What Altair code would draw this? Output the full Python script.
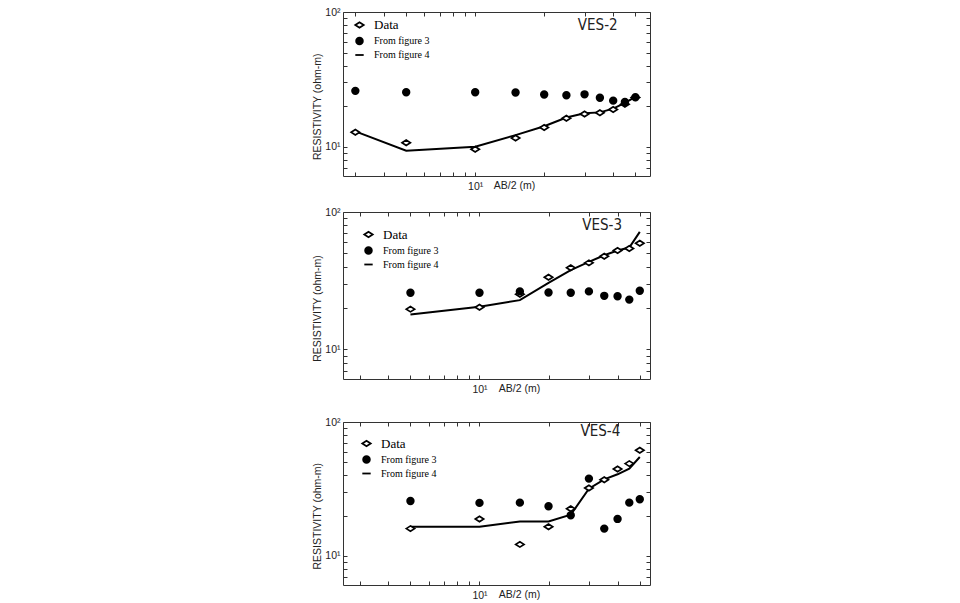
import altair as alt
import pandas as pd

# ---------------- data ----------------
X_TICKS = [3, 4, 5, 6, 7, 8, 9, 10, 20, 30, 40, 50]
Y_TICKS = [7, 8, 9, 10, 20, 30, 40, 50, 60, 70, 80, 90, 100]
SERIES = ["Data", "From figure 3", "From figure 4"]

ves2_ab = [3, 5, 10, 15, 20, 25, 30, 35, 40, 45, 50]
ves2_data = [12.8, 10.7, 9.6, 11.6, 13.9, 16.3, 17.5, 17.9, 18.9, 20.7, 23.2]
ves2_fig3 = [26.0, 25.4, 25.4, 25.3, 24.4, 24.1, 24.5, 23.1, 22.0, 21.5, 23.3]
ves2_fig4 = [13.0, 9.34, 10.0, 12.2, 14.2, 16.5, 17.7, 18.0, 19.2, 21.2, 23.5]

ves3_ab = [5, 10, 15, 20, 25, 30, 35, 40, 45, 50]
ves3_data = [19.6, 20.2, 25.2, 33.5, 39.2, 42.6, 47.6, 52.4, 54.2, 59.2]
ves3_fig3 = [25.8, 25.8, 26.4, 25.9, 25.8, 26.4, 24.5, 24.3, 23.0, 26.7]
ves3_fig4 = [17.9, 20.4, 22.8, 30.5, 37.7, 43.3, 48.4, 52.4, 55.1, 71.6]

ves4_ab = [5, 10, 15, 20, 25, 30, 35, 40, 45, 50]
ves4_data = [16.0, 18.9, 12.2, 16.5, 22.5, 32.2, 37.1, 44.6, 48.9, 61.5]
ves4_fig3 = [25.7, 24.9, 25.0, 23.5, 20.1, 37.8, 16.0, 18.9, 25.0, 26.5]
ves4_fig4 = [16.5, 16.5, 18.1, 18.1, 20.3, 31.8, 37.3, 40.7, 44.9, 54.8]

# ---------------- styling ----------------
SANS = "Liberation Sans"
NARROW = "Liberation Sans Narrow, DejaVu Sans Condensed, Liberation Sans"
SERIF = "Liberation Serif"
DIAMOND = "M-1,0L0,-0.65L1,0L0,0.65Z"
SMALL_CIRCLE = "M0.8,0A0.8,0.8 0 1,1 -0.8,0A0.8,0.8 0 1,1 0.8,0Z"
W = 307


def panel(name, ab, data, fig3, fig4, height, xdom, leg_xy, ves_xy, xtitle_x):
    n = len(ab)
    pts = pd.DataFrame({
        "ab": ab + ab,
        "rho": data + fig3,
        "series": ["Data"] * n + ["From figure 3"] * n,
    })
    ln = pd.DataFrame({"ab": ab, "rho": fig4})

    xs = alt.Scale(type="log", domain=xdom, nice=False)
    ys = alt.Scale(type="log", domain=[6.07, 100], nice=False)
    tick = dict(tickSize=4, offset=-4, domain=False, grid=False,
                tickColor="#333", tickWidth=1)

    x_bottom = alt.Axis(
        orient="bottom", values=X_TICKS,
        labelExpr="datum.value == 10 ? '10¹' : ''",
        labelOverlap=False, labelFlush=False, labelPadding=5,
        labelFont=SANS, labelFontSize=10.5, labelColor="#222",
        title="AB/2 (m)", titleFont=SANS, titleFontSize=10.5,
        titleFontWeight="normal", titleColor="#222",
        titleX=xtitle_x, titleY=13, titleAlign="center",
        titleBaseline="middle", titleAngle=0, **tick)
    y_left = alt.Axis(
        orient="left", values=Y_TICKS,
        labelExpr="datum.value == 10 ? '10¹' : (datum.value == 100 ? '10²' : '')",
        labelOverlap=False, labelFlush=False, labelPadding=3,
        labelFont=SANS, labelFontSize=10.5, labelColor="#222",
        title="RESISTIVITY (ohm-m)", titleFont=SANS, titleFontSize=10.5,
        titleFontWeight="normal", titleColor="#222",
        titleX=-30, titleY=height * 0.575, titleAngle=270,
        titleAlign="center", titleBaseline="middle", **tick)
    x_top = alt.Axis(orient="top", values=X_TICKS, labels=False, title=None, **tick)
    y_right = alt.Axis(orient="right", values=Y_TICKS, labels=False, title=None, **tick)

    leg = alt.Legend(
        title=None, orient="none", legendX=leg_xy[0], legendY=leg_xy[1],
        labelFont=SERIF, labelColor="black",
        labelFontSize=alt.ExprRef(expr="datum.label == 'Data' ? 13 : 10"),
        symbolSize=70, symbolStrokeWidth=1.8, symbolStrokeColor="black",
        labelOffset=9, rowPadding=1, padding=0)

    line = alt.Chart(ln).mark_line(color="black", strokeWidth=2).encode(
        x=alt.X("ab:Q", scale=xs, axis=x_bottom),
        y=alt.Y("rho:Q", scale=ys, axis=y_left),
    )
    points = alt.Chart(pts).mark_point(
        filled=False, color="black", strokeWidth=1.7, opacity=1, size=70
    ).encode(
        x=alt.X("ab:Q", scale=xs, axis=x_top),
        y=alt.Y("rho:Q", scale=ys, axis=y_right),
        shape=alt.Shape("series:N", scale=alt.Scale(
            domain=SERIES, range=[DIAMOND, SMALL_CIRCLE, "stroke"]), legend=leg),
        fill=alt.Fill("series:N", scale=alt.Scale(
            domain=SERIES, range=["white", "black", "transparent"]), legend=leg),
        stroke=alt.Stroke("series:N", scale=alt.Scale(
            domain=SERIES, range=["black", "black", "black"]), legend=leg),
    )
    label = alt.Chart(pd.DataFrame({"t": [name]})).mark_text(
        align="right", baseline="middle", font=NARROW, fontSize=15, color="#222"
    ).encode(text="t:N", x=alt.value(ves_xy[0]), y=alt.value(ves_xy[1]))

    return alt.layer(line, points, label).resolve_axis(
        x="independent", y="independent"
    ).properties(width=W, height=height)


def spacer(h):
    return alt.Chart(pd.DataFrame({"v": [0]})).mark_point(opacity=0).encode(
        x=alt.value(0), y=alt.value(0)
    ).properties(width=W, height=h, view=alt.ViewBackground(stroke="transparent"))


p1 = panel("VES-2", ves2_ab, ves2_data, ves2_fig3, ves2_fig4, 164,
           [2.65, 57.9], (11, 7.5), (274.6, 13.3), 171)
p2 = panel("VES-3", ves3_ab, ves3_data, ves3_fig3, ves3_fig4, 167,
           [2.54, 55.4], (20, 17), (279, 12.6), 176)
p3 = panel("VES-4", ves4_ab, ves4_data, ves4_fig3, ves4_fig4, 163,
           [2.54, 55.4], (18, 16), (277.3, 9.2), 176)

chart = alt.vconcat(p1, spacer(36), p2, spacer(43), p3,
                    spacing=0, bounds="flush").resolve_scale(
    shape="independent", fill="independent", stroke="independent"
).properties(
    padding={"left": 311, "top": 6, "right": 5, "bottom": 5},
    background="white",
).configure_view(stroke="#333", strokeWidth=1)

chart.save("out.html", embed_options={"renderer": "svg", "actions": False})
